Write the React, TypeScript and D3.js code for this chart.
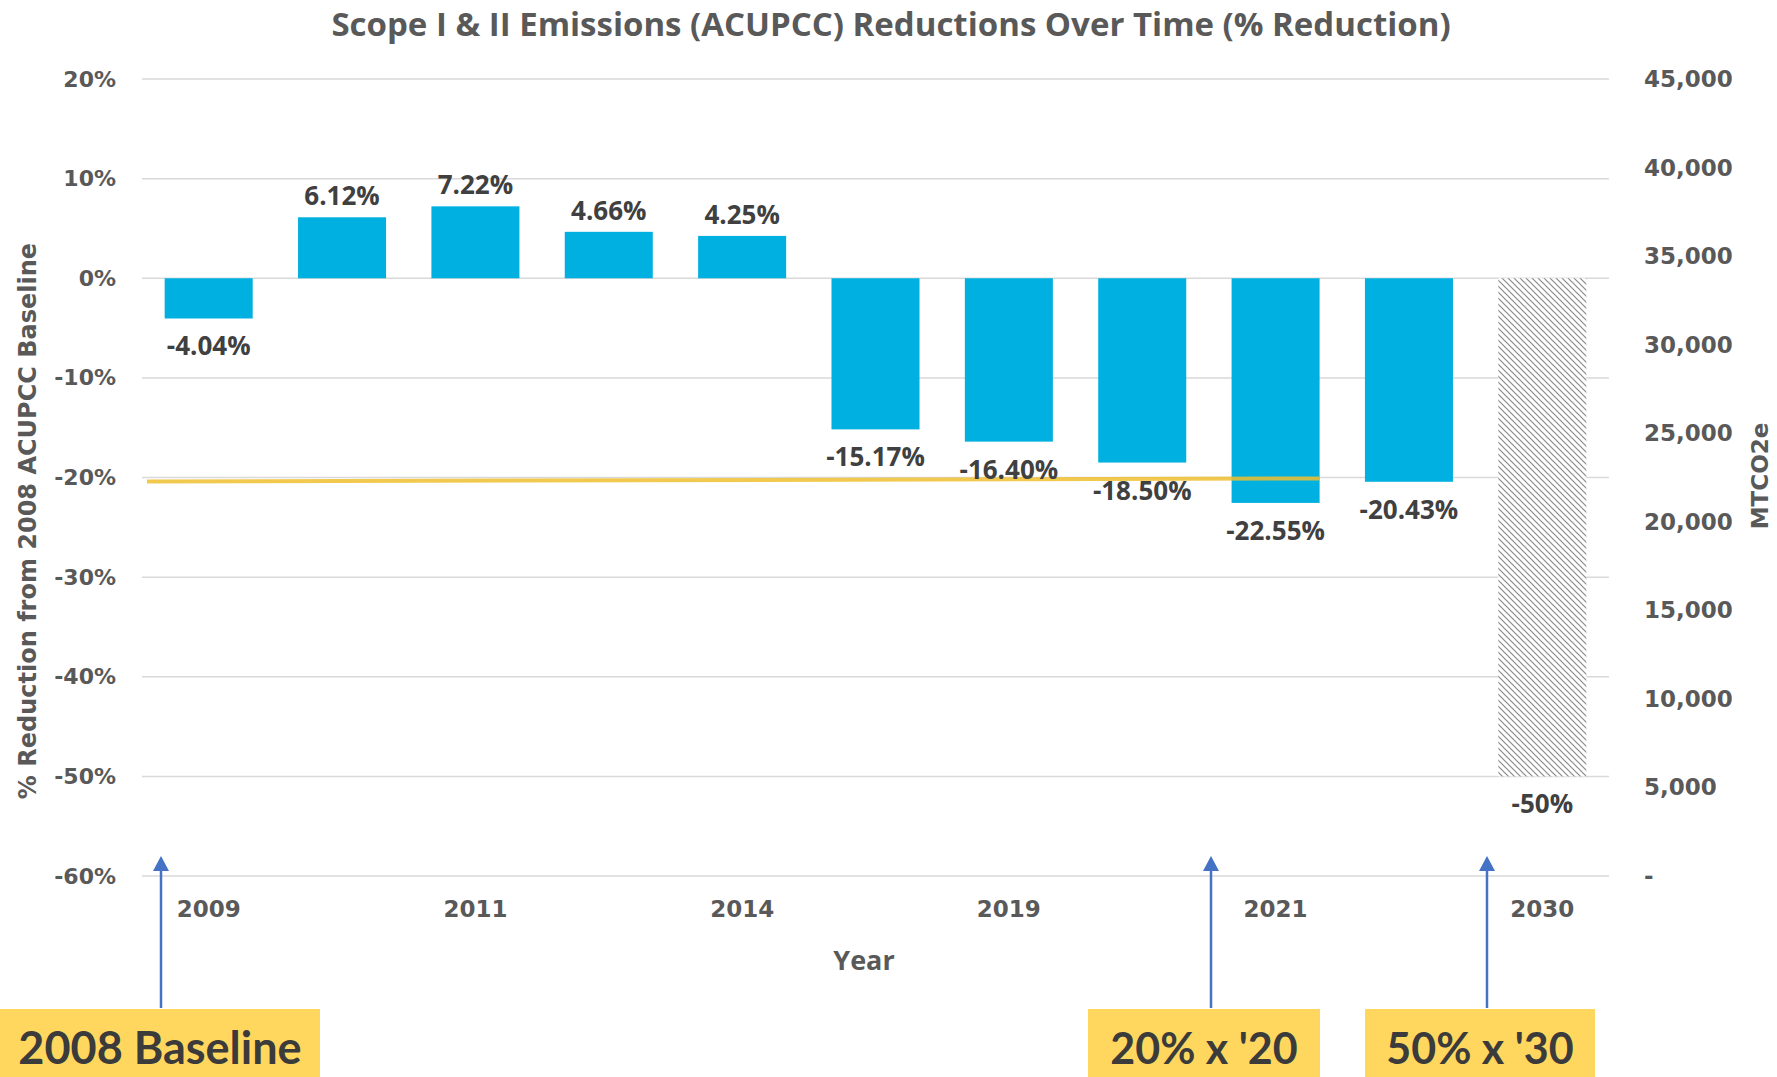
import * as d3 from "d3";

const years = ["2009", "2010", "2011", "2013", "2014", "2018", "2019", "2020", "2021", "2022", "2030"];
const reductions = [-4.04, 6.12, 7.22, 4.66, 4.25, -15.17, -16.4, -18.5, -22.55, -20.43, -50];
const isTarget = [false, false, false, false, false, false, false, false, false, false, true];
const valueLabels = ["-4.04%", "6.12%", "7.22%", "4.66%", "4.25%", "-15.17%", "-16.40%", "-18.50%", "-22.55%", "-20.43%", "-50%"];
const shownYears = ["2009", "2011", "2014", "2019", "2021", "2030"];

const leftTicks = [20, 10, 0, -10, -20, -30, -40, -50, -60];
const rightTicks = [45000, 40000, 35000, 30000, 25000, 20000, 15000, 10000, 5000, 0];

// 20% goal line, drawn from the start of the axis to the end of the 2021 bar
const goalLine = { from: -20.4, to: -20.1, endYear: "2021" };

const calloutText = ["2008 Baseline", "20% x '20", "50% x '30"];
const calloutBox = [[0, 320], [1088, 1320], [1365, 1595]];
const calloutArrowX = [161, 1211, 1487];

const W = 1777;
const H = 1077;
const TICK_FONT = "'DejaVu Sans', sans-serif";
const LABEL_FONT = "'Open Sans', sans-serif";

const App = () => {
  const x = d3.scaleBand<string>().domain(years).range([142, 1609]).paddingInner(0.34).paddingOuter(0.17);
  const y = d3.scaleLinear().domain([-60, 20]).range([876, 79]);
  const yR = d3.scaleLinear().domain([0, 45000]).range([876, 79]);
  const fmtR = d3.format(",");

  const lineX0 = x.range()[0] + 5;
  const lineX1 = (x(goalLine.endYear) ?? 0) + x.bandwidth();
  const line = d3.line<[number, number]>()([
    [lineX0, y(goalLine.from)],
    [lineX1, y(goalLine.to)],
  ]);

  const arrowTip = y(-60) - 20;
  const boxTop = 1009;

  return (
    <svg width={W} height={H} style={{ position: "absolute", left: 0, top: 0, background: "#fff" }}>
      <defs>
        <pattern id="hatch" patternUnits="userSpaceOnUse" width={6} height={6}>
          <rect width={6} height={6} fill="#fff" />
          <path d="M0,0 L6,6 M-1,5 L1,7 M5,-1 L7,1" stroke="#8a8a8a" strokeWidth={1.2} />
        </pattern>
      </defs>

      <text x={891} y={23} textAnchor="middle" dominantBaseline="central" fontFamily={LABEL_FONT} fontWeight={700} fontSize={33} fill="#595959">
        Scope I &amp; II Emissions (ACUPCC) Reductions Over Time (% Reduction)
      </text>

      {leftTicks.map((t) => (
        <g key={t}>
          <line x1={142} x2={1609} y1={y(t)} y2={y(t)} stroke="#d9d9d9" strokeWidth={1.5} />
          <text x={116} y={y(t)} textAnchor="end" dominantBaseline="central" fontFamily={TICK_FONT} fontWeight={700} fontSize={22} fill="#595959">
            {`${t}%`}
          </text>
        </g>
      ))}

      {rightTicks.map((t) => (
        <text key={t} x={1644} y={yR(t)} textAnchor="start" dominantBaseline="central" fontFamily={TICK_FONT} fontWeight={700} fontSize={23} fill="#595959">
          {t === 0 ? "-" : fmtR(t)}
        </text>
      ))}

      {years.map((yr, i) => {
        const v = reductions[i];
        const top = y(Math.max(0, v));
        const h = Math.abs(y(v) - y(0));
        return (
          <rect key={yr} x={x(yr)} y={top} width={x.bandwidth()} height={h} fill={isTarget[i] ? "url(#hatch)" : "#00b0e0"} />
        );
      })}

      <path d={line ?? ""} stroke="#f0c030" strokeWidth={4} fill="none" opacity={0.85} />

      {years.map((yr, i) => {
        const v = reductions[i];
        const cx = (x(yr) ?? 0) + x.bandwidth() / 2;
        const cy = v >= 0 ? y(v) - 22 : y(v) + 27;
        return (
          <text key={yr} x={cx} y={cy} textAnchor="middle" dominantBaseline="central" fontFamily={LABEL_FONT} fontWeight={700} fontSize={26} fill="#404040">
            {valueLabels[i]}
          </text>
        );
      })}

      {shownYears.map((yr) => (
        <text key={yr} x={(x(yr) ?? 0) + x.bandwidth() / 2} y={909} textAnchor="middle" dominantBaseline="central" fontFamily={TICK_FONT} fontWeight={700} fontSize={23} fill="#595959">
          {yr}
        </text>
      ))}

      <text x={864} y={959} textAnchor="middle" dominantBaseline="central" fontFamily={LABEL_FONT} fontWeight={700} fontSize={27} fill="#595959">
        Year
      </text>

      <text transform="translate(28,521) rotate(-90)" textAnchor="middle" dominantBaseline="central" fontFamily={TICK_FONT} fontWeight={700} fontSize={24} fill="#595959">
        % Reduction from 2008 ACUPCC Baseline
      </text>
      <text transform="translate(1760,476) rotate(-90)" textAnchor="middle" dominantBaseline="central" fontFamily={TICK_FONT} fontWeight={700} fontSize={23} fill="#595959">
        MTCO2e
      </text>

      {calloutText.map((label, i) => {
        const [bx0, bx1] = calloutBox[i];
        const ax = calloutArrowX[i];
        return (
          <g key={label}>
            <rect x={bx0} y={boxTop} width={bx1 - bx0} height={H - boxTop} fill="#ffd75e" />
            <text x={(bx0 + bx1) / 2} y={1047} textAnchor="middle" dominantBaseline="central" fontFamily="Lato, sans-serif" fontWeight={700} fontSize={i === 0 ? 45 : 43} fill="#3b3b3b">
              {label}
            </text>
            <line x1={ax} x2={ax} y1={boxTop - 1} y2={arrowTip + 12} stroke="#4472c4" strokeWidth={2.5} />
            <path d={`M${ax},${arrowTip} L${ax + 8},${arrowTip + 15} L${ax - 8},${arrowTip + 15} Z`} fill="#4472c4" />
          </g>
        );
      })}
    </svg>
  );
};

export default App;
